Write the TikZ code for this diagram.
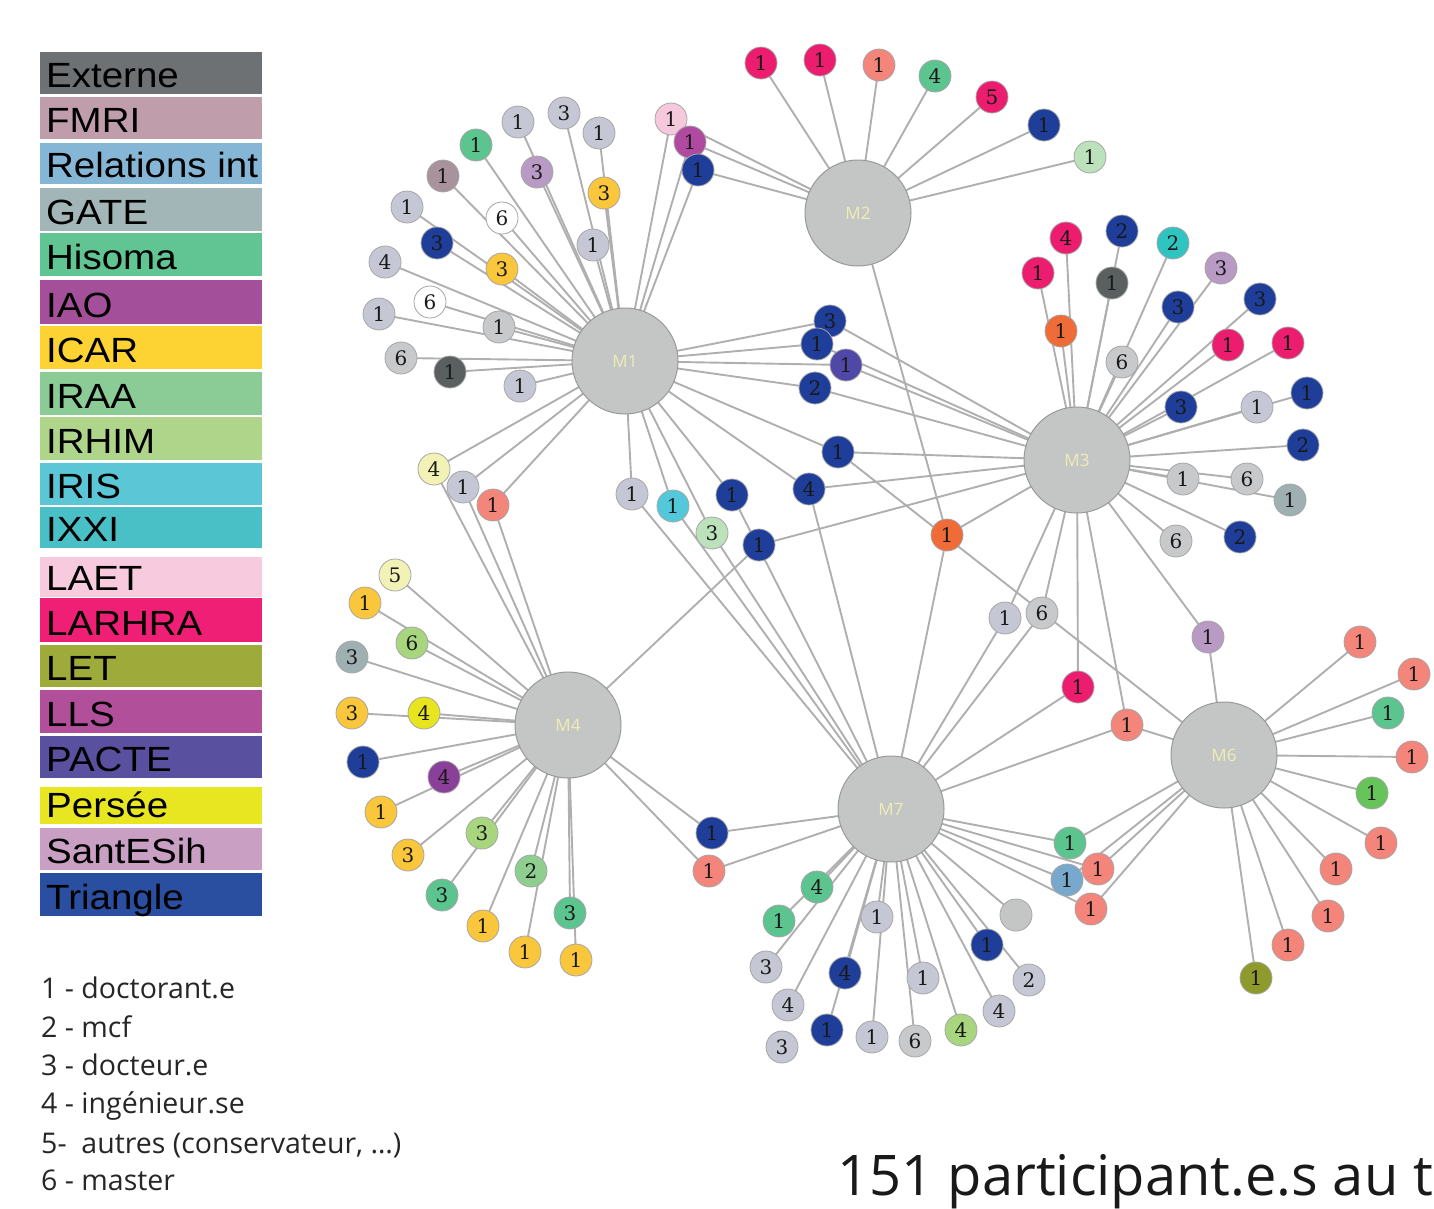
\documentclass[tikz,border=0pt]{standalone}
\usepackage{fontspec}
\usetikzlibrary{backgrounds}
\newfontfamily\legfont[FakeStretch=1.1]{Liberation Sans}
\newfontfamily\osans{Open Sans}
\newfontfamily\numfont{DejaVu Serif}
\definecolor{lav}{HTML}{C6C7D4}
\definecolor{neu}{HTML}{C7C9CA}
\definecolor{ext}{HTML}{5A5F60}
\definecolor{fmri}{HTML}{A8929C}
\definecolor{sant}{HTML}{B89AC4}
\definecolor{hisoma}{HTML}{5CC48E}
\definecolor{icar}{HTML}{F9C63C}
\definecolor{tri}{HTML}{1E3E9A}
\definecolor{laet}{HTML}{F6C8DC}
\definecolor{lls}{HTML}{B04AA0}
\definecolor{larhra}{HTML}{EC1C6E}
\definecolor{salmon}{HTML}{F3857B}
\definecolor{pacte}{HTML}{5048A6}
\definecolor{orng}{HTML}{EF6B38}
\definecolor{ixxi}{HTML}{30C4C0}
\definecolor{iris}{HTML}{52C8DA}
\definecolor{gate}{HTML}{9EB0B2}
\definecolor{paleg}{HTML}{BCE2BC}
\definecolor{palee}{HTML}{F2F2B6}
\definecolor{irhim}{HTML}{A8D67E}
\definecolor{iraa}{HTML}{8ECF90}
\definecolor{persee}{HTML}{E8E41E}
\definecolor{iao}{HTML}{8A3F98}
\definecolor{letc}{HTML}{8E9A2C}
\definecolor{relint}{HTML}{78A8CC}
\definecolor{brg}{HTML}{66C45A}
\definecolor{hubc}{HTML}{C4C6C6}
\definecolor{hubtxt}{HTML}{EEEEB4}
\definecolor{linkc}{HTML}{AFAFAF}
% legend colours
\definecolor{LExterne}{HTML}{6E7174}
\definecolor{LFMRI}{HTML}{BF9DAA}
\definecolor{LRel}{HTML}{86B6D6}
\definecolor{LGATE}{HTML}{A2B6B8}
\definecolor{LHisoma}{HTML}{60C493}
\definecolor{LIAO}{HTML}{A44F9A}
\definecolor{LICAR}{HTML}{FCD332}
\definecolor{LIRAA}{HTML}{8BCB96}
\definecolor{LIRHIM}{HTML}{AED58A}
\definecolor{LIRIS}{HTML}{5AC6D6}
\definecolor{LIXXI}{HTML}{48C0C6}
\definecolor{LLAET}{HTML}{F8CADE}
\definecolor{LLARHRA}{HTML}{EF1F76}
\definecolor{LLET}{HTML}{9EAB3A}
\definecolor{LLLS}{HTML}{B24F9B}
\definecolor{LPACTE}{HTML}{5A50A0}
\definecolor{LPersee}{HTML}{E8E620}
\definecolor{LSant}{HTML}{C9A0C4}
\definecolor{LTriangle}{HTML}{2A4EA0}
\newcommand\Leaf[5]{\node[leaf,fill=#4] (#1) at (#2,#3) {#5};}
\begin{document}
\begin{tikzpicture}[x=1pt,y=-1pt,
  leaf/.style={circle,draw=black!35,line width=0.8pt,minimum size=32pt,inner sep=0pt,font=\numfont\fontsize{20}{20}\selectfont,text=black!90},
  hub/.style={circle,draw=black!40,fill=hubc,line width=1pt,minimum size=106pt,inner sep=0pt,font=\osans\fontsize{17}{17}\selectfont,text=hubtxt},
  link/.style={draw=linkc,line width=1.9pt},
  legtext/.style={anchor=base west,inner sep=0pt,font=\legfont\fontsize{35}{35}\selectfont},
  roletext/.style={anchor=base west,inner sep=0pt,font=\osans\fontsize{28.5}{28.5}\selectfont,text=black!85}]
\useasboundingbox (0,0) rectangle (1434,1208);

% ---------- legend ----------
\foreach \nm/\col/\ty/\by [count=\i] in {Externe/LExterne/52/94, FMRI/LFMRI/97/139, Relations int/LRel/143/184, GATE/LGATE/188/231, Hisoma/LHisoma/233/276, IAO/LIAO/280/324, ICAR/LICAR/326/369, IRAA/LIRAA/372/415, IRHIM/LIRHIM/417/460, IRIS/LIRIS/463/505, IXXI/LIXXI/507/548, LAET/LLAET/557/597, LARHRA/LLARHRA/598/642, LET/LLET/645/687, LLS/LLLS/690/733, PACTE/LPACTE/736/778, Persée/LPersee/787/824, SantESih/LSant/828/870, Triangle/LTriangle/873/916}{
  \fill[\col] (40,\ty) rectangle (262,\by);
  \node[legtext] (lg\i) at (46,\by-7) {\nm};
}
\node[roletext] (r1) at (41,998) {1 - doctorant.e};
\node[roletext] (r2) at (41,1037) {2 - mcf};
\node[roletext] (r3) at (41,1075) {3 - docteur.e};
\node[roletext] (r4) at (41,1113) {4 - ingénieur.se};
\node[roletext] (r5) at (41,1153) {5-\ \ autres (conservateur, …)};
\node[roletext] (r6) at (41,1190) {6 - master};
\node[anchor=base west,inner sep=0pt,font=\osans\fontsize{56}{56}\selectfont,text=black!90] (title) at (837,1195) {151 participant.e.s au t};

% ---------- hubs ----------
\node[hub] (M1) at (625,361) {M1};
\node[hub] (M2) at (858,213) {M2};
\node[hub] (M3) at (1077,460) {M3};
\node[hub] (M4) at (568,725) {M4};
\node[hub] (M6) at (1224,755) {M6};
\node[hub] (M7) at (891,809) {M7};

% ---------- M1 leaves ----------
\Leaf{n01}{518}{122}{lav}{1}
\Leaf{n02}{564}{113}{lav}{3}
\Leaf{n03}{599}{133}{lav}{1}
\Leaf{n04}{476}{145}{hisoma}{1}
\Leaf{n05}{443}{176}{fmri}{1}
\Leaf{n06}{537}{172}{sant}{3}
\Leaf{n07}{604}{193}{icar}{3}
\Leaf{n08}{407}{207}{lav}{1}
\Leaf{n09}{502}{218}{white}{6}
\Leaf{n10}{437}{243}{tri}{3}
\Leaf{n11}{593}{245}{lav}{1}
\Leaf{n12}{502}{269}{icar}{3}
\Leaf{n13}{385}{262}{lav}{4}
\Leaf{n14}{430}{302}{white}{6}
\Leaf{n15}{379}{314}{lav}{1}
\Leaf{n16}{499}{327}{neu}{1}
\Leaf{n17}{401}{358}{neu}{6}
\Leaf{n18}{450}{372}{ext}{1}
\Leaf{n19}{520}{386}{lav}{1}
% M1 + M2
\Leaf{p01}{671}{119}{laet}{1}
\Leaf{p02}{690}{142}{lls}{1}
\Leaf{p03}{698}{170}{tri}{1}
% M2
\Leaf{q01}{761}{63}{larhra}{1}
\Leaf{q02}{820}{60}{larhra}{1}
\Leaf{q03}{879}{65}{salmon}{1}
\Leaf{q04}{935}{76}{hisoma}{4}
\Leaf{q05}{992}{97}{larhra}{5}
\Leaf{q06}{1044}{125}{tri}{1}
\Leaf{q07}{1090}{157}{paleg}{1}
% bridges
\Leaf{r01}{830}{321}{tri}{3}
\Leaf{r02}{817}{344}{tri}{1}
\Leaf{r03}{846}{365}{pacte}{1}
\Leaf{r04}{815}{388}{tri}{2}
\Leaf{r05}{838}{452}{tri}{1}
\Leaf{r06}{809}{489}{tri}{4}
\Leaf{r07}{632}{494}{lav}{1}
\Leaf{r08}{673}{506}{iris}{1}
\Leaf{r09}{712}{533}{paleg}{3}
\Leaf{r10}{732}{495}{tri}{1}
\Leaf{r11}{759}{545}{tri}{1}
\Leaf{r12}{947}{535}{orng}{1}
\Leaf{s01}{434}{469}{palee}{4}
\Leaf{s02}{463}{487}{lav}{1}
\Leaf{s03}{493}{505}{salmon}{1}
% M3
\Leaf{t01}{1066}{238}{larhra}{4}
\Leaf{t02}{1038}{273}{larhra}{1}
\Leaf{t03}{1061}{331}{orng}{1}
\Leaf{t04}{1122}{231}{tri}{2}
\Leaf{t05}{1112}{283}{ext}{1}
\Leaf{t06}{1173}{243}{ixxi}{2}
\Leaf{t07}{1221}{268}{sant}{3}
\Leaf{t08}{1178}{307}{tri}{3}
\Leaf{t09}{1122}{362}{neu}{6}
\Leaf{t10}{1260}{299}{tri}{3}
\Leaf{t11}{1228}{345}{larhra}{1}
\Leaf{t12}{1288}{343}{larhra}{1}
\Leaf{t13}{1181}{407}{tri}{3}
\Leaf{t14}{1257}{407}{lav}{1}
\Leaf{t15}{1307}{393}{tri}{1}
\Leaf{t16}{1303}{445}{tri}{2}
\Leaf{t17}{1183}{479}{neu}{1}
\Leaf{t18}{1247}{479}{neu}{6}
\Leaf{t19}{1290}{500}{gate}{1}
\Leaf{t20}{1176}{541}{neu}{6}
\Leaf{t21}{1240}{537}{tri}{2}
\Leaf{u01}{1005}{618}{lav}{1}
\Leaf{u02}{1042}{613}{neu}{6}
\Leaf{u03}{1078}{687}{larhra}{1}
\Leaf{u04}{1127}{725}{salmon}{1}
\Leaf{u05}{1208}{637}{sant}{1}
% M6
\Leaf{v01}{1360}{642}{salmon}{1}
\Leaf{v02}{1414}{674}{salmon}{1}
\Leaf{v03}{1388}{713}{hisoma}{1}
\Leaf{v04}{1412}{757}{salmon}{1}
\Leaf{v05}{1372}{793}{brg}{1}
\Leaf{v06}{1381}{843}{salmon}{1}
\Leaf{v07}{1336}{869}{salmon}{1}
\Leaf{v08}{1328}{916}{salmon}{1}
\Leaf{v09}{1288}{945}{salmon}{1}
\Leaf{v10}{1256}{978}{letc}{1}
\Leaf{w01}{1070}{843}{hisoma}{1}
\Leaf{w02}{1098}{869}{salmon}{1}
\Leaf{w03}{1067}{880}{relint}{1}
\Leaf{w04}{1091}{909}{salmon}{1}
% M7
\Leaf{x01}{817}{887}{hisoma}{4}
\Leaf{x02}{779}{921}{hisoma}{1}
\Leaf{x03}{766}{967}{lav}{3}
\Leaf{x04}{788}{1005}{lav}{4}
\Leaf{x05}{782}{1047}{lav}{3}
\Leaf{x06}{877}{917}{lav}{1}
\Leaf{x07}{845}{973}{tri}{4}
\Leaf{x08}{827}{1030}{tri}{1}
\Leaf{x09}{872}{1037}{lav}{1}
\Leaf{x10}{923}{978}{lav}{1}
\Leaf{x11}{915}{1041}{neu}{6}
\Leaf{x12}{961}{1030}{irhim}{4}
\Leaf{x13}{999}{1011}{lav}{4}
\Leaf{x14}{987}{945}{tri}{1}
\Leaf{x15}{1029}{980}{lav}{2}
\Leaf{x16}{1016}{915}{hubc}{}
\Leaf{x17}{712}{833}{tri}{1}
\Leaf{x18}{709}{871}{salmon}{1}
% M4
\Leaf{y01}{395}{575}{palee}{5}
\Leaf{y02}{365}{603}{icar}{1}
\Leaf{y03}{412}{643}{irhim}{6}
\Leaf{y04}{352}{657}{gate}{3}
\Leaf{y05}{352}{713}{icar}{3}
\Leaf{y06}{424}{713}{persee}{4}
\Leaf{y07}{363}{762}{tri}{1}
\Leaf{y08}{444}{777}{iao}{4}
\Leaf{y09}{381}{812}{icar}{1}
\Leaf{y10}{408}{855}{icar}{3}
\Leaf{y11}{482}{833}{irhim}{3}
\Leaf{y12}{442}{895}{hisoma}{3}
\Leaf{y13}{483}{926}{icar}{1}
\Leaf{y14}{531}{871}{iraa}{2}
\Leaf{y15}{525}{952}{icar}{1}
\Leaf{y16}{570}{913}{hisoma}{3}
\Leaf{y17}{576}{960}{icar}{1}

% ---------- connectors ----------
\begin{scope}[on background layer]
\foreach \a in {n01,n02,n03,n04,n05,n06,n07,n08,n09,n10,n11,n12,n13,n14,n15,n16,n17,n18,n19,p01,p02,p03,r01,r02,r03,r04,r05,r06,r07,r08,r09,r10,s01,s02,s03}
  \draw[link] (M1.center) -- (\a.center);
\foreach \a in {p01,p02,p03,q01,q02,q03,q04,q05,q06,q07,r12}
  \draw[link] (M2.center) -- (\a.center);
\foreach \a in {r01,r02,r03,r04,r05,r06,r11,r12,t01,t02,t03,t04,t05,t06,t07,t08,t09,t10,t11,t12,t13,t14,t15,t16,t17,t18,t19,t20,t21,u01,u02,u03,u04,u05}
  \draw[link] (M3.center) -- (\a.center);
\foreach \a in {s01,s02,s03,r11,x17,x18,y01,y02,y03,y04,y05,y06,y07,y08,y09,y10,y11,y12,y13,y14,y15,y16,y17}
  \draw[link] (M4.center) -- (\a.center);
\foreach \a in {r05,u04,u05,v01,v02,v03,v04,v05,v06,v07,v08,v09,v10,w01,w02,w03,w04}
  \draw[link] (M6.center) -- (\a.center);
\foreach \a in {r06,r07,r08,r09,r10,r12,u01,u02,u03,u04,w01,w02,w03,w04,x01,x02,x03,x04,x06,x07,x08,x09,x10,x11,x12,x13,x14,x15,x16,x17,x18}
  \draw[link] (M7.center) -- (\a.center);
\end{scope}
\end{tikzpicture}
\end{document}
